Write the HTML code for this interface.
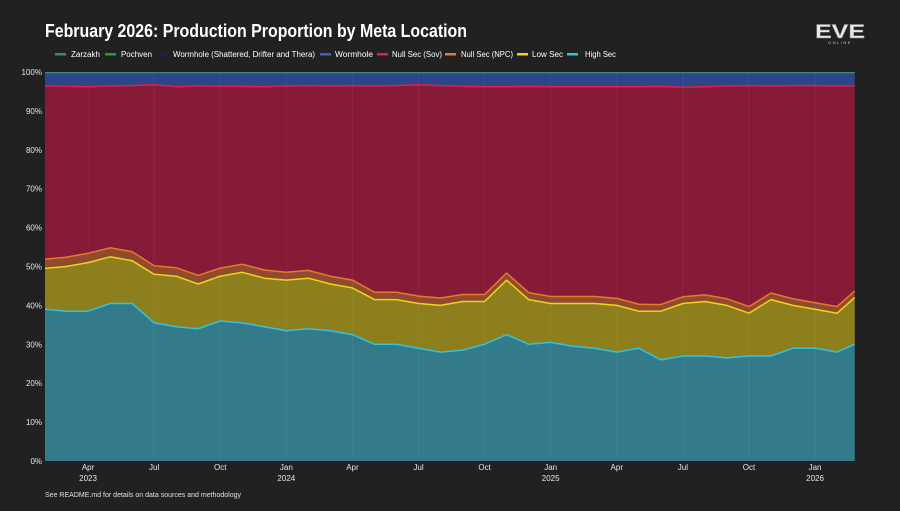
<!DOCTYPE html>
<html><head><meta charset="utf-8">
<style>
html,body{margin:0;padding:0;background:#212121;}
body{width:900px;height:506px;overflow:hidden;font-family:"Liberation Sans",sans-serif;}
svg text{font-family:"Liberation Sans",sans-serif;}
</style></head>
<body>
<svg id="chart" width="900" height="506" viewBox="0 0 900 506">
<rect x="0" y="0" width="900" height="506" fill="#212121"/>
<text x="45" y="37" fill="#ffffff" font-size="18" font-weight="bold" textLength="422" lengthAdjust="spacingAndGlyphs">February 2026: Production Proportion by Meta Location</text>
<g>
<text x="840" y="38" fill="#e8e8e8" font-size="19" font-weight="bold" text-anchor="middle" textLength="50" lengthAdjust="spacingAndGlyphs" stroke="#888" stroke-width="0.4">EVE</text>
<text x="840" y="44" fill="#cccccc" font-size="4" text-anchor="middle" letter-spacing="1.5">ONLINE</text>
</g>
<g id="legend"></g>
<g id="grid"></g>
<g id="areas"></g>
<g id="yaxis"></g>
<g id="xaxis"></g>
<text x="45" y="497" fill="#e0e0e0" font-size="7" textLength="196" lengthAdjust="spacingAndGlyphs">See README.md for details on data sources and methodology</text>
</svg>
<script>
// month index: 0 = Feb 2023
const months = [0,1,2,3,4,5,6,7,8,9,10,11,12,13,14,15,16,17,18,19,20,21,22,23,24,25,26,27,28,29,30,31,32,33,34,35,36,36.8];
const highSec = [39,38.5,38.5,40.5,40.5,35.5,34.5,34,36,35.5,34.5,33.5,34,33.5,32.5,30,30,29,28,28.5,30,32.5,30,30.5,29.5,29,28,29,26,27,27,26.5,27,27,29,29,28,30];
const lowSec = [10.5,11.5,12.5,12,11,12.5,13,11.5,11.5,13,12.5,13,13,12,12,11.5,11.5,11.5,12,12.5,11,14,11.5,10,11,11.5,12,9.5,12.5,13.5,14,13.5,11,14.5,11,10,10,12];
const nullNpc = [2.4,2.4,2.4,2.3,2.3,2.2,2.2,2.2,2.1,2.1,2.1,2,2,2,2,1.9,1.9,1.9,1.9,1.8,1.8,1.8,1.8,1.8,1.8,1.8,1.8,1.8,1.7,1.7,1.7,1.7,1.7,1.7,1.7,1.7,1.7,1.7];
const nullSovTop = [96.4,96.3,96.2,96.4,96.5,96.7,96.2,96.4,96.3,96.3,96.2,96.4,96.5,96.4,96.5,96.4,96.5,96.7,96.5,96.3,96.2,96.2,96.3,96.2,96.2,96.2,96.2,96.2,96.3,96.1,96.2,96.4,96.5,96.4,96.5,96.5,96.4,96.4];
const nullSov = nullSovTop.map((t,i)=>+(t-highSec[i]-lowSec[i]-nullNpc[i]).toFixed(2));
const wormhole = [3.4,3.5,3.6,3.4,3.3,3.1,3.6,3.4,3.5,3.5,3.6,3.4,3.3,3.4,3.3,3.4,3.3,3.1,3.3,3.5,3.6,3.6,3.5,3.6,3.6,3.6,3.6,3.6,3.5,3.7,3.6,3.4,3.3,3.4,3.3,3.3,3.4,3.4];
const shattered = months.map(()=>0.08);
const pochven = months.map(()=>0.07);
const zarzakh = months.map(()=>0.05);

const seriesNames = ["High Sec","Low Sec","Null Sec (NPC)","Null Sec (Sov)","Wormhole","Wormhole (Shattered, Drifter and Thera)","Pochven","Zarzakh"];
const seriesData = [highSec,lowSec,nullNpc,nullSov,wormhole,shattered,pochven,zarzakh];
const lineColors = ["#2fc3e4","#f0d21c","#e8782c","#e1204c","#3f5fbf","#1a1a6e","#2f9a40","#3a8a78"];
const fillColors = ["#337b8b","#8d7f1e","#8f4b2c","#861b38","#2d4689","#1a1a5a","#2a6a40","#2f6f66"];
const legendOrder = [7,6,5,4,3,2,1,0];
const yTicks = [0,10,20,30,40,50,60,70,80,90,100];
const xTickMonths = [2,5,8,11,14,17,20,23,26,29,32,35];
const xTickLabels = ["Apr","Jul","Oct","Jan","Apr","Jul","Oct","Jan","Apr","Jul","Oct","Jan"];
const yearTickMonths = [2,11,23,35];
const yearLabels = ["2023","2024","2025","2026"];

const NS="http://www.w3.org/2000/svg";
const X0=45,X1=855,Y0=461,Y1=72;
const xs = m => 44 + m*22.03;
const ys = v => Y0 - (v/100)*(Y0-Y1);
function mk(tag,attrs,parent){const e=document.createElementNS(NS,tag);for(const k in attrs)e.setAttribute(k,attrs[k]);parent.appendChild(e);return e;}

const n=months.length;
const totals=months.map((_,i)=>seriesData.reduce((s,a)=>s+a[i],0));
const cum=[];let base=months.map(()=>0);
seriesData.forEach((arr,si)=>{const top=base.map((b,i)=>b+arr[i]/totals[i]*100);cum.push({lo:base,hi:top});base=top;});
const xsc = months.map(m=>Math.min(X1,Math.max(X0,xs(m))));

const grid=document.getElementById('grid');
mk('rect',{x:X0,y:Y1,width:X1-X0,height:Y0-Y1,fill:"#2a2a2a"},grid);

const areas=document.getElementById('areas');
cum.forEach((c,si)=>{
  let d="M"+xsc.map((x,i)=>x.toFixed(1)+","+ys(c.hi[i]).toFixed(1)).join("L");
  for(let i=n-1;i>=0;i--) d+="L"+xsc[i].toFixed(1)+","+ys(c.lo[i]).toFixed(1);
  d+="Z";
  const a=mk('path',{d:d,fill:fillColors[si],stroke:"none"},areas);
  
  
});
xTickMonths.forEach(m=>{mk('line',{x1:xs(m),x2:xs(m),y1:Y1,y2:Y0,stroke:"rgba(255,255,255,0.05)","stroke-width":1},areas);});
cum.forEach((c,si)=>{
  if(si>4) return;
  const d="M"+xsc.map((x,i)=>x.toFixed(1)+","+ys(c.hi[i]).toFixed(1)).join("L");
  const l=mk('path',{d:d,fill:"none",stroke:lineColors[si],"stroke-width":1.5,"stroke-linejoin":"round"},areas);
  
  
});
mk('line',{x1:X0,x2:X1,y1:Y1+0.5,y2:Y1+0.5,stroke:"#3a8a78","stroke-width":1},areas);

const ya=document.getElementById('yaxis');
yTicks.forEach(v=>{
  const t=mk('text',{x:X0-3,y:ys(v)+3,fill:"#e6e6e6","font-size":8,"text-anchor":"end"},ya);
  t.textContent=v+"%";
  
  
});
const xa=document.getElementById('xaxis');
xTickMonths.forEach((m,i)=>{
  const t=mk('text',{x:xs(m),y:470,fill:"#e6e6e6","font-size":8,"text-anchor":"middle"},xa);
  t.textContent=xTickLabels[i];
  
  
});
yearTickMonths.forEach((m,i)=>{
  const t=mk('text',{x:xs(m),y:481,fill:"#e6e6e6","font-size":8,"text-anchor":"middle"},xa);
  t.textContent=yearLabels[i];
  
  
});

// legend (layout positions)
const lg=document.getElementById('legend');
const swatchX=[55,105,157,320,377,445,517,567];
const textX=[71,121,173,335,392,461,532,585];
const textW=[29,31,142,38,50,52,31,31];
legendOrder.forEach((si,k)=>{
  const g=mk('g',{},lg);
  
  
  mk('rect',{x:swatchX[k],y:53,width:11,height:2.5,fill:lineColors[si]},g);
  const t=mk('text',{x:textX[k],y:57,fill:"#ffffff","font-size":8,textLength:textW[k],lengthAdjust:"spacingAndGlyphs"},g);
  t.textContent=seriesNames[si];
});
</script>
</body></html>
